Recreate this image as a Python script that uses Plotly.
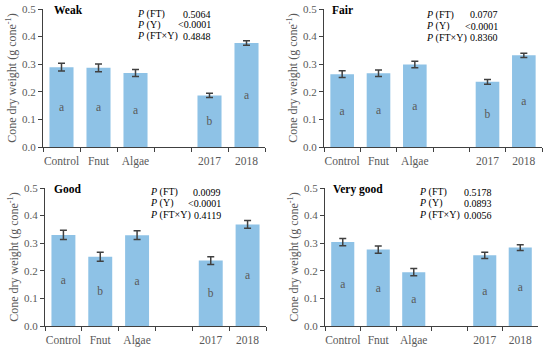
import plotly.graph_objects as go

categories = ["Control", "Fnut", "Algae", " ", "2017", "2018"]

panel_titles = ["Weak", "Fair", "Good", "Very good"]

weak_vals = [0.289, 0.287, 0.268, None, 0.187, 0.377]
weak_err = [0.014, 0.014, 0.013, None, 0.008, 0.008]
weak_letters = ["a", "a", "a", None, "b", "a"]
weak_p = ["0.5064", "<0.0001", "0.4848"]

fair_vals = [0.264, 0.267, 0.299, None, 0.236, 0.332]
fair_err = [0.012, 0.012, 0.012, None, 0.009, 0.008]
fair_letters = ["a", "a", "a", None, "b", "a"]
fair_p = ["0.0707", "<0.0001", "0.8360"]

good_vals = [0.330, 0.251, 0.329, None, 0.237, 0.368]
good_err = [0.017, 0.016, 0.016, None, 0.014, 0.014]
good_letters = ["a", "b", "a", None, "b", "a"]
good_p = ["0.0099", "<0.0001", "0.4119"]

vgood_vals = [0.304, 0.277, 0.195, None, 0.256, 0.284]
vgood_err = [0.013, 0.013, 0.013, None, 0.011, 0.010]
vgood_letters = ["a", "a", "a", None, "a", "a"]
vgood_p = ["0.5178", "0.0893", "0.0056"]

p_labels = ["<i>P</i> (FT)", "<i>P</i> (Y)", "<i>P</i> (FT×Y)"]

FONT = "Liberation Serif"
BAR = "#8EC2E6"
GREY = "#595959"

panels = [
    (weak_vals, weak_err, weak_letters, weak_p),
    (fair_vals, fair_err, fair_letters, fair_p),
    (good_vals, good_err, good_letters, good_p),
    (vgood_vals, vgood_err, vgood_letters, vgood_p),
]

W, H = 550, 350
# pixel layout of each plot area: (x0, x1, ytop, ybottom)
boxes = [(43, 265, 9, 147), (324, 542, 9, 147), (45, 266, 188, 326), (325, 538, 188, 326)]
# annotation positions (px): label left x, value right x, row y's
ann_pos = [
    (135, 213, [14, 25, 36]),
    (424, 500, [15, 26, 38]),
    (148, 223, [192, 203, 215]),
    (417, 494, [192, 203, 215]),
]
title_x = [52, 330, 52, 331]
title_y = [10, 10, 189, 189]

fig = go.Figure()
annotations = []
layout = {}
for i, (vals, errs, letters, pv) in enumerate(panels):
    n = i + 1
    xa = "x" if n == 1 else f"x{n}"
    ya = "y" if n == 1 else f"y{n}"
    fig.add_trace(go.Bar(
        x=categories, y=vals, xaxis=xa, yaxis=ya,
        marker=dict(color=BAR, line=dict(width=0)),
        error_y=dict(type="data", array=errs, visible=True, color="#404040", thickness=1.5, width=3.5),
        text=letters, textposition="inside", insidetextanchor="middle", textangle=0,
        textfont=dict(family=FONT, size=11.5, color=GREY),
        showlegend=False, hoverinfo="skip",
    ))
    x0, x1, yt, yb = boxes[i]
    xk = "xaxis" if n == 1 else f"xaxis{n}"
    yk = "yaxis" if n == 1 else f"yaxis{n}"
    layout[xk] = dict(
        domain=[x0 / W, x1 / W], anchor=ya, type="category", automargin=False,
        categoryorder="array", categoryarray=categories, tickangle=0, ticklabelstandoff=3,
        showline=True, linecolor="#404040", linewidth=1,
        ticks="outside", tickson="boundaries", ticklen=4, tickcolor="#404040",
        tickfont=dict(family=FONT, size=11.5, color=GREY), showgrid=False, zeroline=False,
    )
    layout[yk] = dict(
        domain=[1 - yb / H, 1 - yt / H], anchor=xa, range=[0, 0.5], dtick=0.1, automargin=False,
        tickformat=".1f", showline=True, linecolor="#404040", linewidth=1,
        ticks="outside", ticklen=4, tickcolor="#404040",
        tickfont=dict(family=FONT, size=11, color=GREY), showgrid=False, zeroline=False,
        title=dict(text="Cone dry weight (g cone<sup>-1</sup>)", font=dict(family=FONT, size=12, color=GREY), standoff=2),
    )
    lx, rx, rows = ann_pos[i]
    for lab, val, ry in zip(p_labels, pv, rows):
        annotations.append(dict(xref="paper", yref="paper", x=lx / W, y=1 - ry / H,
                                xanchor="left", yanchor="middle", text=lab, showarrow=False,
                                font=dict(family=FONT, size=10, color="black")))
        annotations.append(dict(xref="paper", yref="paper", x=rx / W, y=1 - ry / H,
                                xanchor="right", yanchor="middle", text=val, showarrow=False,
                                font=dict(family=FONT, size=10, color="black")))
    annotations.append(dict(xref="paper", yref="paper", x=title_x[i] / W, y=1 - title_y[i] / H,
                            xanchor="left", yanchor="middle", text=f"<b>{panel_titles[i]}</b>",
                            showarrow=False, font=dict(family=FONT, size=11.5, color="black")))

fig.update_layout(
    width=W, height=H, margin=dict(l=0, r=0, t=0, b=0, autoexpand=False),
    paper_bgcolor="white", plot_bgcolor="white", bargap=0.35,
    annotations=annotations, **layout,
)
fig.write_html("out.html", config={"displayModeBar": False},
               post_script="document.body.style.margin='0';document.body.style.padding='0';")
